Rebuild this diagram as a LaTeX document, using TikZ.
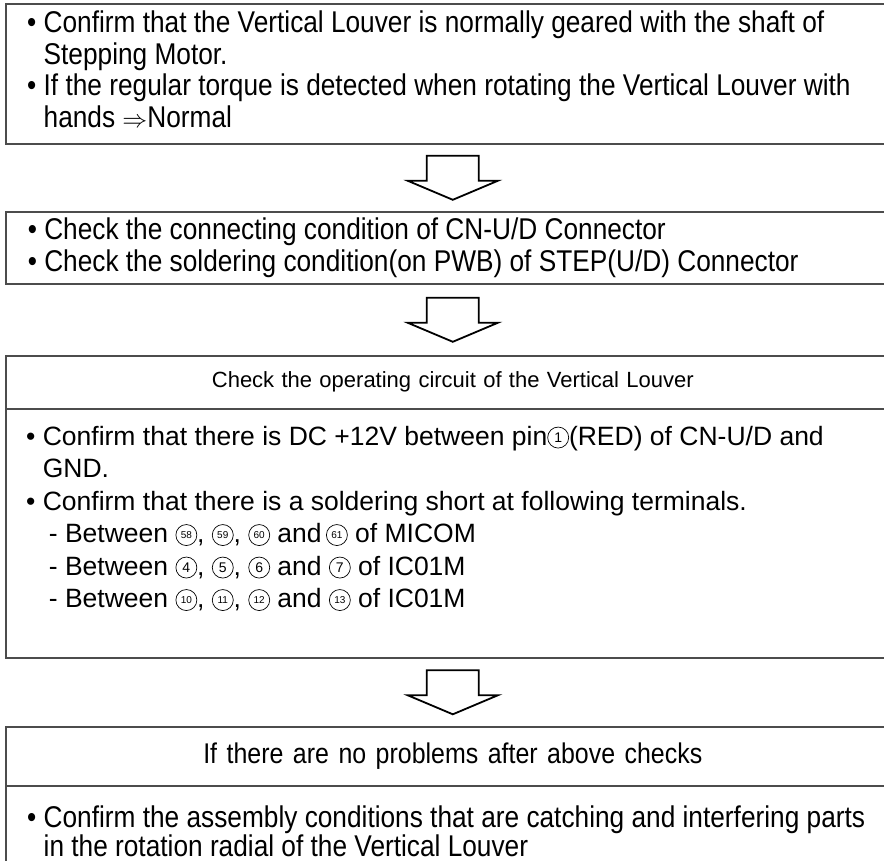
\documentclass[tikz,border=0pt]{standalone}
\usepackage{fontspec}
\setmainfont{Liberation Sans}
\newfontfamily\narrowfont[FakeStretch=0.875]{Liberation Sans}
\usetikzlibrary{calc}

% circled pin numbers
\newcommand{\cnum}[2][14]{\tikz[baseline={([yshift=3pt]cn.south)}]\node[circle, draw, line width=0.7pt, inner sep=0pt, minimum size=21pt, font=\fontsize{#1}{#1}\selectfont] (cn) {#2};}

\tikzset{
    frame/.style={draw=black!70, line width=1.6pt, rectangle, minimum width=894pt, inner xsep=22pt, inner ysep=0pt, anchor=north west},
    narrow/.style={font=\narrowfont\fontsize{30}{31.5}\selectfont},
    plain/.style={font=\fontsize{26.5}{32.5}\selectfont},
    blockdown/.pic={
        \draw[line width=1.8pt, line join=miter] (-26,-22) -- (-26,3) -- (-45,3) -- (0,22) -- (45,3) -- (26,3) -- (26,-22) -- cycle;
    }
}

\begin{document}
\begin{tikzpicture}[x=1pt, y=-1pt]
    \clip (0,0) rectangle (884,861);
    \fill[white] (0,0) rectangle (884,861);

    % first check
    \node[frame, minimum height=140pt] (geared) at (5,3) {};
    \node[narrow, anchor=north west, inner sep=0pt, align=flush left] (gearedtext) at ([shift={(22,8)}]geared.north west) {%
        \textbullet\ Confirm that the Vertical Louver is normally geared with the shaft of\\
        \hphantom{\textbullet\ }Stepping Motor.\\
        \textbullet\ If the regular torque is detected when rotating the Vertical Louver with\\
        \hphantom{\textbullet\ }hands {\fontsize{24}{24}\selectfont$\Rightarrow$}Normal};

    % connector check
    \node[frame, narrow, minimum height=72pt, text width=850pt, align=flush left] (connector) at (5,211) {%
        \textbullet\ Check the connecting condition of CN-U/D Connector\\
        \textbullet\ Check the soldering condition(on PWB) of STEP(U/D) Connector};

    % operating circuit
    \node[frame, font=\fontsize{22}{26}\selectfont, minimum height=53pt, text width=850pt, align=center] (circuithead) at (5,355) {Check the operating circuit of the Vertical Louver};
    \node[frame, minimum height=249pt] (circuit) at (5,408) {};
    \node[plain, anchor=north west, inner sep=0pt, align=flush left] (circuittext) at ([shift={(21,18)}]circuit.north west) {%
        \textbullet\ Confirm that there is DC +12V between pin\cnum{1}(RED) of CN-U/D and\\
        \hphantom{\textbullet\ }GND.\\
        \textbullet\ Confirm that there is a soldering short at following terminals.\\
        \hphantom{\textbullet\ }\hspace{6pt}- Between \cnum[10]{58}, \cnum[10]{59}, \cnum[10]{60} and\,\cnum[10]{61} of MICOM\\
        \hphantom{\textbullet\ }\hspace{6pt}- Between \cnum{4}, \cnum{5}, \cnum{6} and \cnum{7} of IC01M\\
        \hphantom{\textbullet\ }\hspace{6pt}- Between \cnum[10]{10}, \cnum[10]{11}, \cnum[10]{12} and \cnum[10]{13} of IC01M};

    % last check
    \node[frame, font=\narrowfont\fontsize{28.5}{30}\selectfont, minimum height=59pt, text width=850pt, align=center] (nexthead) at (5,726) {If there are no problems after above checks};
    \node[frame, minimum height=100pt] (assembly) at (5,785) {};
    \node[font=\narrowfont\fontsize{30}{29}\selectfont, anchor=north west, inner sep=0pt, align=flush left] (assemblytext) at ([shift={(22,21)}]assembly.north west) {%
        \textbullet\ Confirm the assembly conditions that are catching and interfering parts\\
        \hphantom{\textbullet\ }in the rotation radial of the Vertical Louver};

    % arrows between the boxes
    \pic at ($(geared.south)!0.5!(connector.north)$) {blockdown};
    \pic at ($(connector.south)!0.5!(circuithead.north)$) {blockdown};
    \pic at ($(circuit.south)!0.5!(nexthead.north)$) {blockdown};
\end{tikzpicture}
\end{document}
